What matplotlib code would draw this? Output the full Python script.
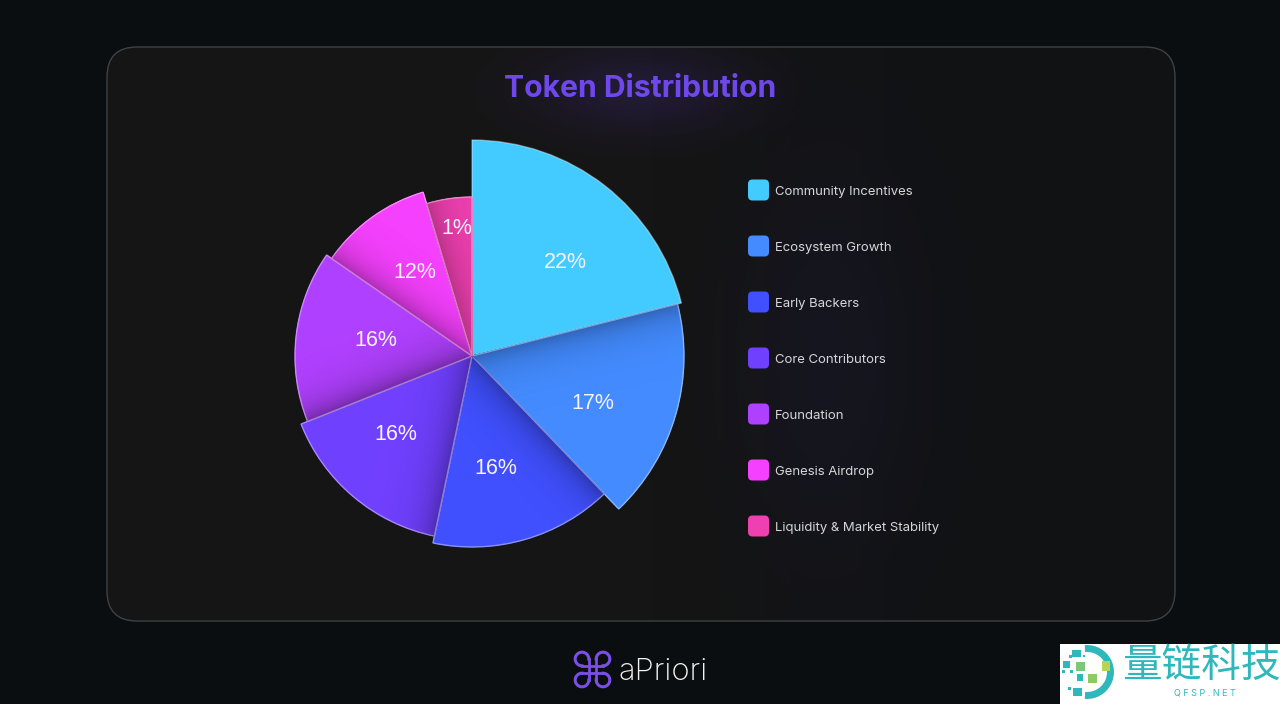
import numpy as np
import matplotlib
matplotlib.use('Agg')
import matplotlib.pyplot as plt
from matplotlib.colors import LinearSegmentedColormap, to_rgb
from matplotlib.patches import FancyBboxPatch, Rectangle, Arc

plt.rcParams['font.family'] = ['Inter', 'DejaVu Sans']

# data
categories = ['Community Incentives', 'Ecosystem Growth', 'Early Backers', 'Core Contributors',
              'Foundation', 'Genesis Airdrop', 'Liquidity & Market Stability']
pct_labels = ['22%', '17%', '16%', '16%', '16%', '12%', '1%']
# drawn sweep of each slice (deg), the picture does not follow its own labels exactly
sweeps = [75.8, 60.4, 55.6, 56.5, 56.5, 38.6, 16.6]
radii = [216, 212, 191, 184, 177, 171, 159]
colors = ['#43CBFF', '#438BFF', '#4050FF', '#7040FF', '#B040FF', '#F640FF', '#EE40B0']
# where the percent text sits
label_angle = [44.4, 110.8, 167.7, 224.6, 280.6, 326.5, 353.4]
label_r = [133, 129.5, 112.6, 108, 97.7, 103, 130]
shadow = [0, .28, .30, .30, .34, .30, .22]

W, H = 1280, 704
fig = plt.figure(figsize=(W / 100, H / 100), dpi=100, facecolor='#0B0E11')

bg = fig.add_axes([0, 0, 1, 1])
bg.set_xlim(0, W)
bg.set_ylim(H, 0)
bg.axis('off')

# card, fill fades a little to the right
card = FancyBboxPatch((107, 47), 1068, 574, boxstyle='round,pad=0,rounding_size=30',
                      fc='none', ec='#3e4244', lw=1, zorder=2)
bg.add_patch(card)
yy, xx = np.mgrid[0:H, 0:W]
mix = np.clip((xx - 650) / 350, 0, 1)[..., None]
fill = (1 - mix) * np.array(to_rgb('#151515')) + mix * np.array(to_rgb('#101214'))
im = bg.imshow(fill, extent=(0, W, H, 0), zorder=1, aspect='auto')
im.set_clip_path(card)

# soft glows behind title and legend
for gx, gy, sx, sy, col, a in [(640, 90, 105, 42, (0.42, 0.25, 0.95), 0.15),
                               (825, 360, 100, 210, (0.30, 0.22, 0.75), 0.07)]:
    g = np.zeros((H, W, 4))
    g[..., :3] = col
    g[..., 3] = a * np.exp(-((xx - gx) / sx) ** 2 - ((yy - gy) / sy) ** 2)
    im = bg.imshow(g, extent=(0, W, H, 0), zorder=1.5, aspect='auto')
    im.set_clip_path(card)
bg.set_xlim(0, W)
bg.set_ylim(H, 0)

bg.text(640.5, 89, 'Token Distribution', color='#6E48EA', fontsize=21.7, fontweight='bold',
        ha='center', va='center', zorder=3)

# legend
for i, (name, col) in enumerate(zip(categories, colors)):
    y = 190 + 56 * i
    bg.add_patch(FancyBboxPatch((748, y - 10.5), 21, 21, boxstyle='round,pad=0,rounding_size=4.5',
                                fc=col, ec='none', zorder=3))
    bg.text(775, y + 2, name, color='#D6D6DA', fontsize=9.45, ha='left', va='center', zorder=3)

# logo, a command key sign
logo = '#7A4FE3'
lx, ly = 592.5, 669.5
for sx in (-1, 1):
    for sy in (-1, 1):
        b = np.arctan2(sy, sx)
        a = np.linspace(b - 0.75 * np.pi, b + 0.75 * np.pi, 60)
        bg.plot(lx + sx * 10.5 + 6.8 * np.cos(a), ly + sy * 10.5 + 6.8 * np.sin(a),
                color=logo, lw=2.2, zorder=3)
    bg.plot([lx + sx * 3.7] * 2, [ly - 10.5, ly + 10.5], color=logo, lw=2, zorder=3)
    bg.plot([lx - 10.5, lx + 10.5], [ly + sx * 3.7] * 2, color=logo, lw=2, zorder=3)
bg.text(619, 672, 'aPriori', color='#F2F2F2', fontsize=22.3, fontweight='light',
        ha='left', va='center', zorder=3)

# watermark
teal = '#2FB8BC'
bg.add_patch(Rectangle((1060, 644), 220, 60, fc='white', ec='none', zorder=4))
bg.add_patch(Arc((1087, 672), 47, 47, theta1=-95, theta2=95, ec=teal, lw=5, zorder=5))
for x, y, w, h, c in [(1102, 661, 8, 10, '#B4D651'), (1076, 662, 9, 9, '#7CC77B'),
                      (1088, 674, 9, 9, '#8CCB60'), (1072, 650, 9, 7, teal),
                      (1063, 661, 7, 7, teal), (1077, 674, 6, 7, teal), (1073, 688, 9, 8, teal),
                      (1068, 687, 3, 3, teal), (1062, 670, 3, 3, teal), (1070, 670, 3, 3, teal),
                      (1069, 655, 3, 3, teal), (1083, 655, 2, 2, teal)]:
    bg.add_patch(Rectangle((x, y), w, h, fc=c, ec='none', zorder=5))
bg.text(1201, 666, '量链科技', color=teal, fontsize=28.5, family=['Noto Sans CJK SC', 'DejaVu Sans'],
        ha='center', va='center', zorder=5)
bg.text(1205, 693, 'Q F S P . N E T', color=teal, fontsize=6.5, ha='center', va='center', zorder=5)

# pie with a different radius per slice
rmax = 222
cx, cy = 472, 356
ax = fig.add_axes([(cx - rmax) / W, (H - cy - rmax) / H, 2 * rmax / W, 2 * rmax / H],
                  projection='polar')
ax.patch.set_visible(False)
ax.set_theta_zero_location('N')
ax.set_theta_direction(-1)
ax.set_ylim(0, rmax)
ax.axis('off')

starts = np.cumsum([0] + sweeps[:-1])
for i in range(len(sweeps)):
    t0 = np.deg2rad(starts[i])
    w = np.deg2rad(sweeps[i])
    ax.bar(t0, radii[i], width=w, bottom=0, align='edge', color=colors[i], lw=0, zorder=2 + i)
    if shadow[i] > 0:
        # opaque shading next to the slice before, falls off away from that edge
        cmap = LinearSegmentedColormap.from_list('s%d' % i, [colors[i], '#000000'])
        t = np.linspace(t0, t0 + w, 90)
        r = np.linspace(0, radii[i], 90)
        T, R = np.meshgrid(t, r)
        d = R * np.sin(T - t0)
        d[T - t0 > np.pi / 2] = 999
        ax.pcolormesh(T, R, shadow[i] * np.exp(-d / 16), cmap=cmap, vmin=0, vmax=1,
                      shading='gouraud', zorder=2 + i + .1)
    ax.bar(t0, radii[i], width=w, bottom=0, align='edge', fc='none',
           ec=(1, 1, 1, .38), lw=1, zorder=2 + i + .2)

for txt, a, r in zip(pct_labels, label_angle, label_r):
    ax.annotate(txt, (np.deg2rad(a), r), xytext=(0, -2), textcoords='offset pixels',
                color='#F6F2FF', fontsize=15.5, family=['Liberation Sans', 'DejaVu Sans'],
                ha='center', va='center', zorder=20)

fig.savefig('out.png', dpi=100, facecolor=fig.get_facecolor())
